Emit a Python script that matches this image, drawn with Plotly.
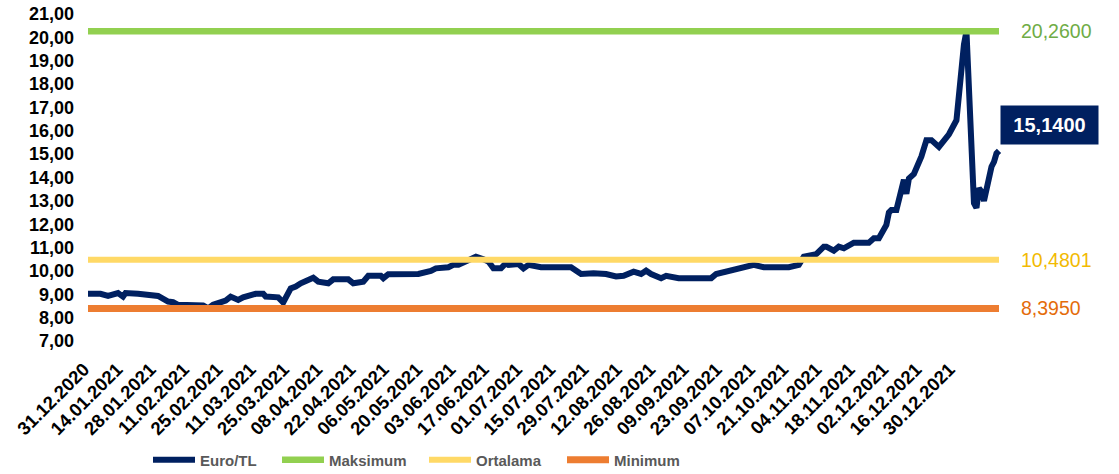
import pandas as pd
import plotly.graph_objects as go

# Daily Euro/TL rate through 2021 (selected trading days)
dates = [
    "2020-12-31", "2021-01-05", "2021-01-08", "2021-01-12", "2021-01-14", "2021-01-15",
    "2021-01-20", "2021-01-25", "2021-01-28", "2021-02-01", "2021-02-03", "2021-02-05",
    "2021-02-11", "2021-02-15", "2021-02-17", "2021-02-19", "2021-02-24", "2021-02-26",
    "2021-03-01", "2021-03-03", "2021-03-08", "2021-03-11", "2021-03-12", "2021-03-17",
    "2021-03-19", "2021-03-22", "2021-03-24", "2021-03-26", "2021-03-31", "2021-04-02",
    "2021-04-06", "2021-04-08", "2021-04-14", "2021-04-16", "2021-04-20", "2021-04-22",
    "2021-04-27", "2021-04-28", "2021-04-30", "2021-05-12", "2021-05-17", "2021-05-19",
    "2021-05-24", "2021-05-26", "2021-05-28", "2021-06-02", "2021-06-04", "2021-06-07",
    "2021-06-09", "2021-06-11", "2021-06-14", "2021-06-16", "2021-06-17", "2021-06-21",
    "2021-06-23", "2021-06-25", "2021-06-30", "2021-07-12", "2021-07-16", "2021-07-21",
    "2021-07-26", "2021-07-30", "2021-08-02", "2021-08-06", "2021-08-09", "2021-08-11",
    "2021-08-13", "2021-08-17", "2021-08-19", "2021-08-24", "2021-09-06", "2021-09-08",
    "2021-09-14", "2021-09-21", "2021-09-23", "2021-09-27", "2021-10-07", "2021-10-11",
    "2021-10-13", "2021-10-18", "2021-10-21", "2021-10-22", "2021-10-25", "2021-10-27",
    "2021-10-29", "2021-11-02", "2021-11-08", "2021-11-10", "2021-11-12", "2021-11-15",
    "2021-11-16", "2021-11-17", "2021-11-18", "2021-11-19", "2021-11-22", "2021-11-23",
    "2021-11-24", "2021-11-25", "2021-11-26", "2021-11-29", "2021-11-30", "2021-12-01",
    "2021-12-02", "2021-12-03", "2021-12-06", "2021-12-07", "2021-12-08", "2021-12-09",
    "2021-12-10", "2021-12-13", "2021-12-14", "2021-12-15", "2021-12-16", "2021-12-17",
    "2021-12-20", "2021-12-21", "2021-12-22", "2021-12-23", "2021-12-24", "2021-12-27",
    "2021-12-28", "2021-12-29", "2021-12-30",
]
euro_tl = [
    9.02, 9.02, 8.93, 9.05, 8.90, 9.05,
    9.02, 8.93, 8.93, 8.69, 8.66, 8.55,
    8.57, 8.52, 8.395, 8.55, 8.73, 8.90,
    8.76, 8.87, 9.02, 9.02, 8.90, 8.87,
    8.65, 9.25, 9.33, 9.47, 9.71, 9.54,
    9.47, 9.64, 9.64, 9.47, 9.54, 9.79,
    9.79, 9.69, 9.86, 9.87, 10.00, 10.11,
    10.16, 10.26, 10.26, 10.47, 10.61, 10.50,
    10.40, 10.11, 10.11, 10.33, 10.26, 10.30,
    10.11, 10.26, 10.16, 10.16, 9.87, 9.90,
    9.87, 9.76, 9.79, 9.97, 9.87, 10.01,
    9.87, 9.69, 9.79, 9.69, 9.69, 9.87,
    10.01, 10.16, 10.26, 10.16, 10.16, 10.26,
    10.61, 10.72, 11.04, 11.04, 10.87, 11.04,
    10.97, 11.21, 11.21, 11.40, 11.40, 11.97,
    12.50, 12.61, 12.58, 12.61, 13.90, 13.30,
    13.96, 14.05, 14.15, 14.90, 15.35, 15.60,
    15.60, 15.60, 15.31, 15.45, 15.55, 15.70,
    15.85, 16.45, 17.60, 19.20, 19.70, 20.26,
    12.90, 12.70, 13.54, 13.40, 13.00, 14.46,
    14.67, 15.03, 15.14,
]

# Reference levels for the year
maksimum = 20.26
ortalama = 10.4801
minimum = 8.395

tick_labels = [
    "31.12.2020", "14.01.2021", "28.01.2021", "11.02.2021", "25.02.2021", "11.03.2021",
    "25.03.2021", "08.04.2021", "22.04.2021", "06.05.2021", "20.05.2021", "03.06.2021",
    "17.06.2021", "01.07.2021", "15.07.2021", "29.07.2021", "12.08.2021", "26.08.2021",
    "09.09.2021", "23.09.2021", "07.10.2021", "21.10.2021", "04.11.2021", "18.11.2021",
    "02.12.2021", "16.12.2021", "30.12.2021",
]

NAVY = "#002060"
GREEN = "#92D050"
YELLOW = "#FFD966"
ORANGE = "#ED7D31"
FONT = "Liberation Sans, Arial, sans-serif"


def tr(v, nd):
    return f"{v:.{nd}f}".replace(".", ",")


x_dates = pd.to_datetime(dates)
tick_dates = pd.to_datetime(tick_labels, format="%d.%m.%Y")
first, last = x_dates[0], x_dates[-1]

# plot area geometry (pixels)
W, H = 1119, 474
L, R, T, B = 84, 116, 14, 133
plot_w = W - L - R
pad = pd.Timedelta(days=1.6)
x_range = [first - pad, last + pad]
span_days = (x_range[1] - x_range[0]) / pd.Timedelta(days=1)
px_per_day = plot_w / span_days

# the date labels sit on a slightly tighter scale than the series
lab_px_per_day = 0.95 * px_per_day
lab_left_days = (pad / pd.Timedelta(days=1)) * px_per_day / lab_px_per_day
lab_start = first - pd.Timedelta(days=lab_left_days)
lab_range = [lab_start, lab_start + pd.Timedelta(days=plot_w / lab_px_per_day)]

series = [
    ("Euro/TL", x_dates, euro_tl, NAVY, 6, "legend"),
    ("Maksimum", [first, last], [maksimum, maksimum], GREEN, 6.5, "legend2"),
    ("Ortalama", [first, last], [ortalama, ortalama], YELLOW, 6, "legend3"),
    ("Minimum", [first, last], [minimum, minimum], ORANGE, 7, "legend4"),
]

fig = go.Figure()
for name, xs, ys, col, w, leg in series:
    fig.add_trace(go.Scatter(x=xs, y=ys, name=name, mode="lines", legend=leg,
                             line=dict(color=col, width=w)))
# carrier for the date-label axis
fig.add_trace(go.Scatter(x=tick_dates, y=[None] * len(tick_dates), xaxis="x2", mode="lines",
                         showlegend=False, hoverinfo="skip"))

# level labels on the right
for val, col in [(maksimum, "#6FAC46"), (ortalama, "#F2BA02"), (minimum, "#E46C0A")]:
    fig.add_annotation(x=1, xref="paper", y=val, yref="y", xanchor="left", yanchor="middle",
                       xshift=16, text=tr(val, 4), showarrow=False,
                       font=dict(family=FONT, size=19.5, color=col))

# closing value badge
fig.add_annotation(x=last, xref="x", y=euro_tl[-1], yref="y", xanchor="left", yanchor="middle",
                   xshift=1, yshift=26, text=tr(euro_tl[-1], 4), showarrow=False,
                   width=95, height=36, bgcolor=NAVY, align="center",
                   font=dict(family=FONT, size=20, color="white", weight="bold"))


def legend_at(px_left):
    return dict(orientation="h", xref="container", yref="container",
                x=px_left / W, xanchor="left", y=1 - 460 / H, yanchor="middle",
                itemwidth=42,
                font=dict(family=FONT, size=15, color="#595959", weight="bold"),
                bgcolor="rgba(0,0,0,0)")


fig.update_layout(
    width=W, height=H,
    margin=dict(l=L, r=R, t=T, b=B, autoexpand=False),
    paper_bgcolor="white", plot_bgcolor="white",
    separators=",.",
    font=dict(family=FONT),
    showlegend=True,
    xaxis=dict(type="date", range=x_range, showticklabels=False, showgrid=False,
               zeroline=False, showline=False, ticks="", automargin=False),
    xaxis2=dict(type="date", overlaying="x", anchor="y", side="bottom", range=lab_range,
                tickmode="array", tickvals=tick_dates, ticktext=tick_labels, tickangle=-45,
                ticklabelstandoff=13, ticklabelshift=-4,
                tickfont=dict(family=FONT, size=18.5, color="black", weight="bold"),
                showgrid=False, zeroline=False, showline=False, ticks="", automargin=False),
    yaxis=dict(range=[7, 21], dtick=1, tickformat=".2f", showgrid=False, zeroline=False,
               showline=False, ticks="", automargin=False, ticklabelstandoff=9,
               tickfont=dict(family=FONT, size=18, color="black", weight="bold")),
    legend=legend_at(148),
    legend2=legend_at(277),
    legend3=legend_at(424),
    legend4=legend_at(562),
)

fig.write_html("out.html")
